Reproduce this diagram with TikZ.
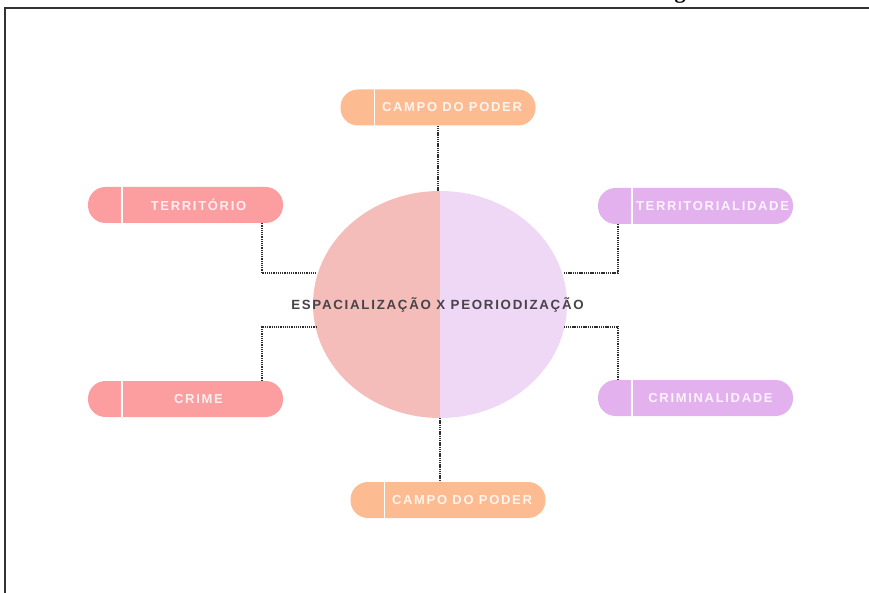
\documentclass[tikz,border=0pt]{standalone}
\usepackage{fontspec}
\setmainfont{Liberation Sans}
\newfontfamily\serifbold{Liberation Serif}
\definecolor{peach}{HTML}{FDBB92}
\definecolor{salmon}{HTML}{FC9D9F}
\definecolor{lilac}{HTML}{E4B1EF}
\definecolor{discleft}{HTML}{F4BDB9}
\definecolor{discright}{HTML}{EFD7F6}
\definecolor{dotgray}{HTML}{2E2E2E}
\definecolor{hubtext}{HTML}{474348}
\tikzset{
  pill/.style={rectangle, rounded corners=17.5pt, minimum width=195pt, minimum height=36pt,
    inner sep=0pt, fill=#1,
    path picture={\draw[white, line width=1.6pt]
      ([xshift=34pt]path picture bounding box.north west) --
      ([xshift=34pt]path picture bounding box.south west);}},
  pilltext/.style={text=white!85!#1, inner sep=0pt,
    font=\fontsize{13}{15}\selectfont\bfseries\addfontfeatures{LetterSpace=13}},
  dotted link/.style={draw=dotgray, line width=2pt, dash pattern=on 1.3pt off 0.9pt},
  frame/.style={draw=black!80, line width=1.6pt}
}
\begin{document}
\begin{tikzpicture}[x=1pt, y=-1pt]
  \useasboundingbox (0,0) rectangle (869,593);
  % page frame and the clipped heading above it
  \begin{scope}
    \clip (0,0) rectangle (869,593);
    \node[anchor=base, inner sep=0pt, font=\serifbold\bfseries\fontsize{22}{24}\selectfont] (headg) at (680,-1) {g};
  \end{scope}
  \draw[frame] (5,593) -- (5,8) -- (869,8);

  % central disc, split in two halves
  \coordinate (hub) at (440,304.5);
  \begin{scope}
    \clip (300,180) rectangle (440,430);
    \fill[discleft] (hub) ellipse[x radius=127pt, y radius=113.5pt];
  \end{scope}
  \begin{scope}
    \clip (440,180) rectangle (580,430);
    \fill[discright] (hub) ellipse[x radius=127pt, y radius=113.5pt];
  \end{scope}
  \coordinate (hubN) at (438,191);
  \coordinate (hubS) at (440,418);
  \coordinate (hubNW) at (316,273);
  \coordinate (hubSW) at (316,327);
  \coordinate (hubNE) at (564,273);
  \coordinate (hubSE) at (564,327);
  \node[text=hubtext, inner sep=0pt,
        font=\fontsize{13.3}{15}\selectfont\bfseries\addfontfeatures{LetterSpace=13}] (hubtitle) at (437.5,305)
        {ESPACIALIZAÇÃO X PEORIODIZAÇÃO};

  % surrounding pills
  \node[pill=peach]  (campoA) at (438,107.5) {};
  \node[pill=salmon] (terr)   at (185.5,205) {};
  \node[pill=lilac]  (terrid) at (695.5,206) {};
  \node[pill=salmon] (crime)  at (185.5,399) {};
  \node[pill=lilac]  (crimin) at (695.5,398) {};
  \node[pill=peach]  (campoB) at (448,500) {};

  \node[pilltext=peach]  (tcampoA) at ([xshift=14pt]campoA.center) {CAMPO DO PODER};
  \node[pilltext=salmon] (tterr)   at ([xshift=13pt]terr.center) {TERRITÓRIO};
  \node[pilltext=lilac]  (tterrid) at ([xshift=17pt]terrid.center) {TERRITORIALIDADE};
  \node[pilltext=salmon] (tcrime)  at ([xshift=13pt]crime.center) {CRIME};
  \node[pilltext=lilac]  (tcrimin) at ([xshift=15pt]crimin.center) {CRIMINALIDADE};
  \node[pilltext=peach]  (tcampoB) at ([xshift=14pt]campoB.center) {CAMPO DO PODER};

  % dotted connectors
  \draw[dotted link] (campoA.south) -- (hubN);
  \draw[dotted link] ([xshift=76pt]terr.south) |- (hubNW);
  \draw[dotted link] ([xshift=-78pt]terrid.south) |- (hubNE);
  \draw[dotted link] ([xshift=76pt]crime.north) |- (hubSW);
  \draw[dotted link] ([xshift=-78pt]crimin.north) |- (hubSE);
  \draw[dotted link] (hubS) -- ([xshift=-8pt]campoB.north);
\end{tikzpicture}
\end{document}
